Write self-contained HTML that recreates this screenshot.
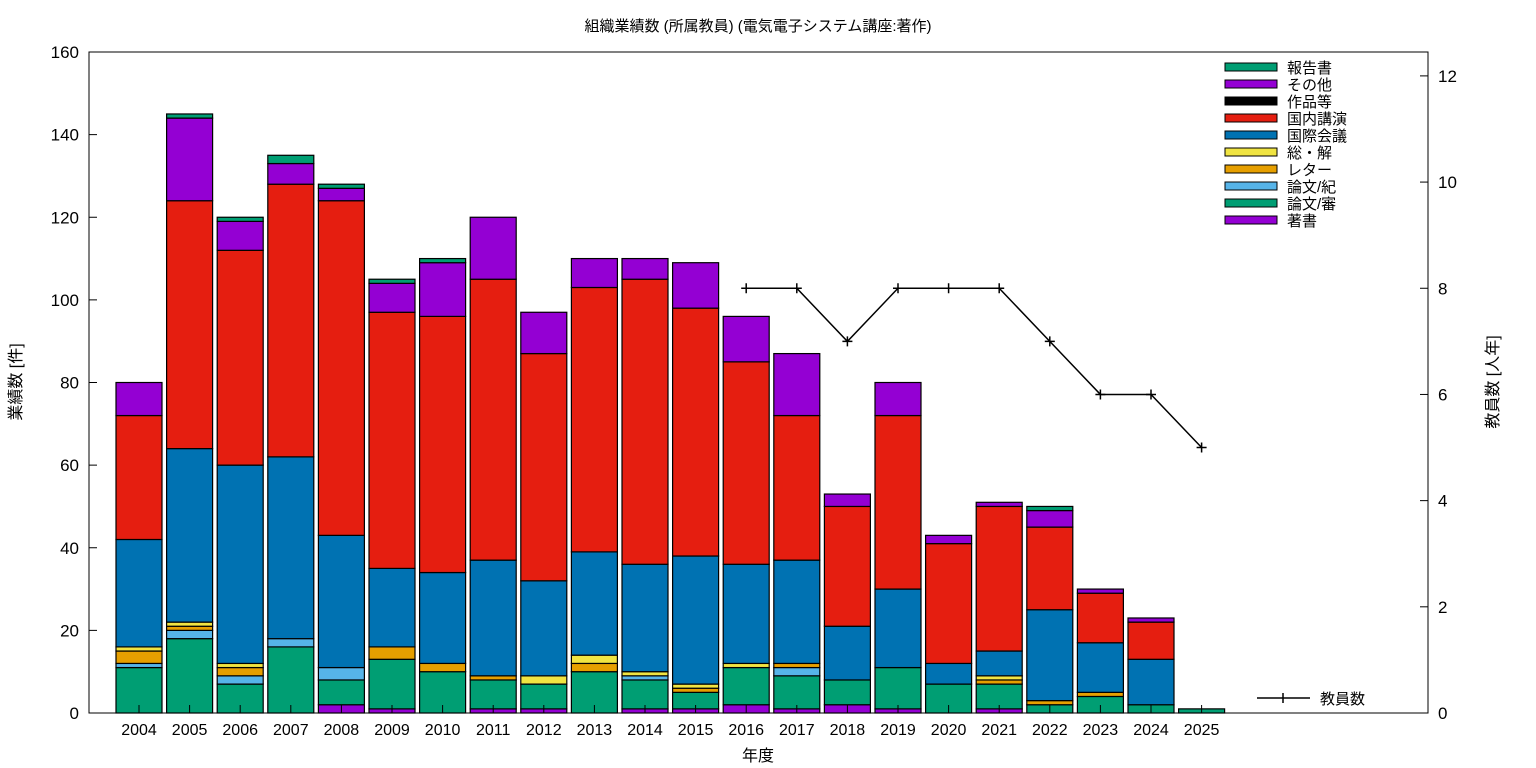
<!DOCTYPE html>
<html><head><meta charset="utf-8">
<style>
body{margin:0;background:#fff;}
svg{display:block;font-family:"Liberation Sans","Noto Sans CJK JP",sans-serif;}
</style></head>
<body>
<svg id="chart" width="1536" height="768" viewBox="0 0 1536 768" xmlns="http://www.w3.org/2000/svg">
<text x="758" y="31" font-size="15" text-anchor="middle">組織業績数 (所属教員) (電気電子システム講座:著作)</text>
<text x="758" y="761" font-size="16" text-anchor="middle">年度</text>
<text transform="translate(21,382) rotate(-90)" font-size="16" text-anchor="middle">業績数 [件]</text>
<text transform="translate(1498,382) rotate(-90)" font-size="16" text-anchor="middle">教員数 [人年]</text>
<g id="bars"></g>
<g id="axes"></g>
<g id="legend"></g>
</svg>
<script>
const years = ["2004","2005","2006","2007","2008","2009","2010","2011","2012","2013","2014","2015","2016","2017","2018","2019","2020","2021","2022","2023","2024","2025"];
const seriesNames = ["著書","論文/審","論文/紀","レター","総・解","国際会議","国内講演","作品等","その他","報告書"];
const seriesColors = ["#9400d3","#009e73","#56b4e9","#e69f00","#f0e442","#0072b2","#e51e10","#000000","#9400d3","#009e73"];
const chosho   = [0,0,0,0,2,1,0,1,1,0,1,1,2,1,2,1,0,1,0,0,0,0];
const ronbunS  = [11,18,7,16,6,12,10,7,6,10,7,4,9,8,6,10,7,6,2,4,2,1];
const ronbunK  = [1,2,2,2,3,0,0,0,0,0,1,0,0,2,0,0,0,0,0,0,0,0];
const letter   = [3,1,2,0,0,3,2,1,0,2,0,1,0,1,0,0,0,1,1,1,0,0];
const soukai   = [1,1,1,0,0,0,0,0,2,2,1,1,1,0,0,0,0,1,0,0,0,0];
const kokusai  = [26,42,48,44,32,19,22,28,23,25,26,31,24,25,13,19,5,6,22,12,11,0];
const kokunai  = [30,60,52,66,81,62,62,68,55,64,69,60,49,35,29,42,29,35,20,12,9,0];
const sakuhin  = [0,0,0,0,0,0,0,0,0,0,0,0,0,0,0,0,0,0,0,0,0,0];
const sonota   = [8,20,7,5,3,7,13,15,10,7,5,11,11,15,3,8,2,1,4,1,1,0];
const houkoku  = [0,1,1,2,1,1,1,0,0,0,0,0,0,0,0,0,0,0,1,0,0,0];
const staffYears = ["2016","2017","2018","2019","2020","2021","2022","2023","2024","2025"];
const staffCount = [8,8,7,8,8,8,7,6,6,5];
const yTicks = [0,20,40,60,80,100,120,140,160];
const y2Ticks = [0,2,4,6,8,10,12];

const series = [chosho,ronbunS,ronbunK,letter,soukai,kokusai,kokunai,sakuhin,sonota,houkoku];
const NS="http://www.w3.org/2000/svg";
const L=89,R=1428,T=52,B=713;
const yMax=160, y2Max=12.45;
const x0=139, dx=50.6, bw=46;
const xPos = i => x0 + i*dx;
const yS = v => B - v/yMax*(B-T);
const y2S = v => B - v/y2Max*(B-T);
function mk(tag, attrs, parent){const e=document.createElementNS(NS,tag);for(const k in attrs)e.setAttribute(k,attrs[k]);parent.appendChild(e);return e;}
const bars=document.getElementById('bars'), axes=document.getElementById('axes'), leg=document.getElementById('legend');
years.forEach((yr,i)=>{
  let cum=0;
  series.forEach((s,k)=>{
    const v=s[i]; if(!v) return;
    const r=mk('rect',{x:xPos(i)-bw/2,y:yS(cum+v),width:bw,height:yS(cum)-yS(cum+v),fill:seriesColors[k],stroke:'#000','stroke-width':1.2},bars);
    
    
    cum+=v;
  });
  const t=mk('text',{x:xPos(i),y:735,'font-size':16,'text-anchor':'middle'},axes);
  t.textContent=yr;
  
  
  mk('line',{x1:xPos(i),x2:xPos(i),y1:B,y2:B-8,stroke:'#000'},axes);
});
const fr=mk('rect',{x:L,y:T,width:R-L,height:B-T,fill:'none',stroke:'#000','stroke-width':1},axes);


yTicks.forEach(v=>{
  mk('line',{x1:L,x2:L+8,y1:yS(v),y2:yS(v),stroke:'#000'},axes);
  const t=mk('text',{x:79,y:yS(v)+6,'font-size':17,'text-anchor':'end'},axes);
  t.textContent=v;
  
  
});
y2Ticks.forEach(v=>{
  mk('line',{x1:R-8,x2:R,y1:y2S(v),y2:y2S(v),stroke:'#000'},axes);
  const t=mk('text',{x:1438,y:y2S(v)+6,'font-size':17,'text-anchor':'start'},axes);
  t.textContent=v;
  
  
});
const pts=staffYears.map((y,j)=>[xPos(years.indexOf(y)),y2S(staffCount[j])]);
const pl=mk('polyline',{points:pts.map(p=>p.join(',')).join(' '),fill:'none',stroke:'#000','stroke-width':1.5},axes);


pts.forEach(p=>{
  const g=mk('path',{d:`M${p[0]-5},${p[1]}h10M${p[0]},${p[1]-5}v10`,stroke:'#000','stroke-width':1.5},axes);
  
  
});
// legend (top entry = last series)
for(let k=series.length-1;k>=0;k--){
  const row=series.length-1-k, cy=67+row*17;
  const r=mk('rect',{x:1225,y:cy-4,width:52,height:8,fill:seriesColors[k],stroke:'#000','stroke-width':1},leg);
  
  
  const t=mk('text',{x:1287,y:cy+6,'font-size':15},leg);
  t.textContent=seriesNames[k];
  
  
}
mk('path',{d:'M1257,698h53M1283,693v10',stroke:'#000','stroke-width':1.5},leg);
const lt=mk('text',{x:1320,y:704,'font-size':15},leg);
lt.textContent='教員数';


</script>
</body></html>
